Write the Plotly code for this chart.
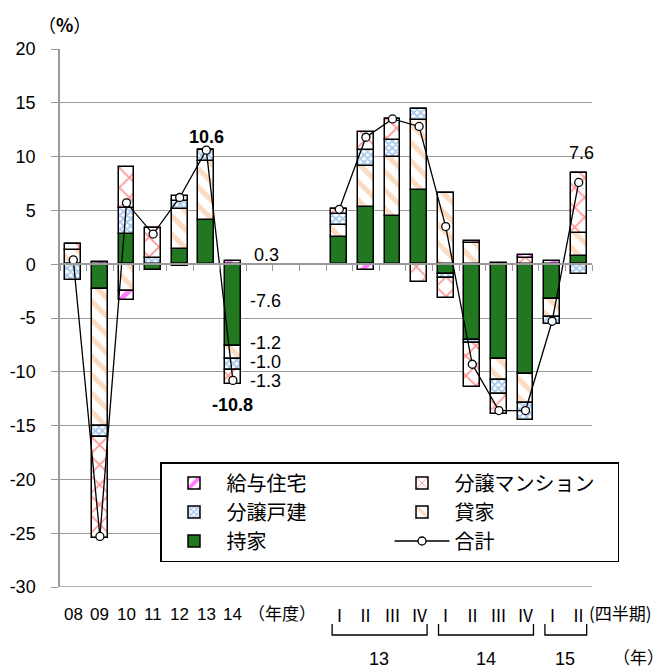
import plotly.graph_objects as go

# ---- data -------------------------------------------------------------
categories = ["08", "09", "10", "11", "12", "13", "14",
              "Ⅰ", "Ⅱ", "Ⅲ", "Ⅳ", "Ⅰ", "Ⅱ", "Ⅲ", "Ⅳ", "Ⅰ", "Ⅱ"]
slot_index = [0, 1, 2, 3, 4, 5, 6, 10, 11, 12, 13, 14, 15, 16, 17, 18, 19]

mochiie = [0.0, -2.3, 2.8, -0.55, 1.45, 4.1, -7.6,
           2.5, 5.3, 4.5, 6.9, -0.9, -7.0, -8.8, -10.2, -3.2, 0.75]
kashiya = [1.35, -12.7, -2.5, 0.0, 3.7, 5.5, -1.2,
           1.1, 3.8, 5.5, 6.5, 6.6, 2.0, -2.0, -2.7, -1.7, 2.15]
bunjo_kodate = [-1.45, -1.1, 2.4, 0.55, 0.75, 1.0, -1.0,
                1.1, 1.5, 1.55, 1.0, -0.4, -0.3, -1.25, -1.55, -0.7, -0.9]
bunjo_mansion = [0.55, -9.35, 3.85, 2.85, 0.45, 0.0, -1.3,
                 0.45, 1.65, 1.95, -1.7, -1.85, -4.15, -1.85, 0.55, 0.0, 5.6]
kyuyo = [0.0, 0.2, -0.85, 0.0, -0.2, 0.0, 0.3,
         0.0, -0.5, 0.0, 0.0, 0.0, 0.2, 0.15, 0.35, 0.3, 0.0]
total = [0.4, -25.3, 5.7, 2.8, 6.2, 10.6, -10.8,
         5.1, 11.8, 13.5, 12.8, 3.5, -9.3, -13.6, -13.6, -5.3, 7.6]

y_ticks = [-30, -25, -20, -15, -10, -5, 0, 5, 10, 15, 20]
y_tick_labels = ["-30", "-25", "-20", "-15", "-10", "-5", "0", "5", "10", "15", "20"]

year_groups = [("13", 7, 10), ("14", 11, 14), ("15", 15, 16)]  # index ranges into categories

# ---- styling ------------------------------------------------------------
NUM_FONT = "Liberation Sans, Arial, sans-serif"
JP_FONT = "Noto Sans CJK JP, sans-serif"
GRID = "#9A9A9A"

fig = go.Figure()

series = [
    ("持家", mochiie, dict(color="#217821"), 5),
    ("貸家", kashiya, dict(color="white", pattern=dict(shape="\\", fgcolor="#F7B985", bgcolor="white",
                                                    size=13, solidity=0.4, fillmode="overlay")), 4),
    ("分譲戸建", bunjo_kodate, dict(color="white", pattern=dict(shape="x", fgcolor="#4F93D8", bgcolor="white",
                                                          size=5, solidity=0.6, fillmode="overlay")), 3),
    ("分譲マンション", bunjo_mansion, dict(color="white", pattern=dict(shape="x", fgcolor="#FF2A2A", bgcolor="white",
                                                                size=14, solidity=0.22, fillmode="overlay")), 2),
    ("給与住宅", kyuyo, dict(color="white", pattern=dict(shape="/", fgcolor="#FF00FF", bgcolor="white",
                                                     size=10, solidity=0.5, fillmode="overlay")), 1),
]

for name, vals, marker, rank in series:
    m = dict(marker)
    m["line"] = dict(color="black", width=1.5)
    fig.add_trace(go.Bar(x=slot_index, y=vals, name=name, marker=m, width=0.6,
                         legendrank=rank))

# total line, broken between fiscal-year and quarterly parts
lx, ly = [], []
for i, (s, v) in enumerate(zip(slot_index, total)):
    if i > 0 and s - slot_index[i - 1] > 1:
        lx.append(None)
        ly.append(None)
    lx.append(s)
    ly.append(v)
fig.add_trace(go.Scatter(x=lx, y=ly, name="合計", mode="lines+markers",
                         line=dict(color="black", width=1.3),
                         marker=dict(symbol="circle", size=8, color="white",
                                     line=dict(color="black", width=1.3)),
                         connectgaps=False, legendrank=6))

# ---- annotations --------------------------------------------------------
ann = []
def pap(px):  # pixel row -> paper y (plot area 49..587)
    return (587 - px) / 538.0
def papx(px):  # pixel column -> paper x (plot area 60..592)
    return (px - 60) / 532.0

# category labels
for s, c in zip(slot_index, categories):
    ann.append(dict(x=s, y=pap(614), xref="x", yref="paper", text=c, showarrow=False,
                    font=dict(family=NUM_FONT if c[0].isdigit() else JP_FONT, size=17, color="black"),
                    xanchor="center", yanchor="middle"))
ann.append(dict(x=7.85, y=pap(612), xref="x", yref="paper", text="（年度）", showarrow=False,
                font=dict(family=JP_FONT, size=17, color="black"), xanchor="center", yanchor="middle"))
ann.append(dict(x=19.3, y=pap(612), xref="x", yref="paper", text="(四半期)", showarrow=False,
                font=dict(family=JP_FONT, size=17, color="black"), xanchor="left", yanchor="middle"))

shapes = []
for label, a, b in year_groups:
    x0 = slot_index[a] - 0.27
    x1 = slot_index[b] + 0.3
    shapes.append(dict(type="path", xref="x", yref="paper",
                       path=f"M {x0},{pap(624)} L {x0},{pap(635)} L {x1},{pap(635)} L {x1},{pap(624)}",
                       line=dict(color="black", width=1.3)))
    ann.append(dict(x=(slot_index[a] + slot_index[b]) / 2, y=pap(659), xref="x", yref="paper",
                    text=label, showarrow=False, font=dict(family=NUM_FONT, size=18, color="black"),
                    xanchor="center", yanchor="middle"))
ann.append(dict(x=papx(638), y=pap(656), xref="paper", yref="paper", text="（年）", showarrow=False,
                font=dict(family=JP_FONT, size=17, color="black"), xanchor="center", yanchor="middle"))

# (%) unit label
ann.append(dict(x=papx(64), y=pap(24), xref="paper", yref="paper", text="（<b>%</b>）", showarrow=False,
                font=dict(family=JP_FONT, size=18, color="black"), xanchor="center", yanchor="middle"))

# value labels for FY14 components and totals
i14 = categories.index("14")
comp_labels = [(kyuyo[i14], 0.85, 6.7), (mochiie[i14], -3.4, 6.55), (kashiya[i14], -7.3, 6.55),
               (bunjo_kodate[i14], -9.05, 6.55), (bunjo_mansion[i14], -10.85, 6.55)]
for v, ypos, xpos in comp_labels:
    ann.append(dict(x=xpos, y=ypos, xref="x", yref="y", text=f"{v:.1f}", showarrow=False,
                    font=dict(family=NUM_FONT, size=18, color="black"), xanchor="left", yanchor="middle"))
i13 = categories.index("13")
ann.append(dict(x=slot_index[i13], y=11.85, xref="x", yref="y", text=f"<b>{total[i13]:.1f}</b>",
                showarrow=False, font=dict(family=NUM_FONT, size=18, color="black"),
                xanchor="center", yanchor="middle"))
ann.append(dict(x=slot_index[i14], y=-13.1, xref="x", yref="y", text=f"<b>{total[i14]:.1f}</b>",
                showarrow=False, font=dict(family=NUM_FONT, size=18, color="black"),
                xanchor="center", yanchor="middle"))
ann.append(dict(x=slot_index[-1] + 0.1, y=10.3, xref="x", yref="y", text=f"{total[-1]:.1f}",
                showarrow=False, font=dict(family=NUM_FONT, size=18, color="black"),
                xanchor="center", yanchor="middle"))

# bottom gridline at -30
shapes.append(dict(type="line", xref="paper", yref="y", x0=0, x1=1, y0=-30, y1=-30,
                   line=dict(color=GRID, width=1.3), layer="below"))

fig.update_layout(
    width=669, height=671,
    margin=dict(l=60, r=77, t=49, b=84, autoexpand=False),
    paper_bgcolor="white", plot_bgcolor="white",
    barmode="relative",
    bargap=0,
    showlegend=True,
    legend=dict(orientation="h", x=papx(160), y=pap(462), xanchor="left", yanchor="top",
                bgcolor="white", bordercolor="black", borderwidth=1.5,
                font=dict(family=JP_FONT, size=20, color="black"),
                entrywidth=158, entrywidthmode="pixels", traceorder="normal",
                itemwidth=55),
    annotations=ann,
    shapes=shapes,
    xaxis=dict(range=[-0.5, 19.5], anchor="free", position=0.6,
               showline=True, linecolor=GRID, linewidth=1.5,
               tickmode="array", tickvals=[k - 0.5 for k in range(21)],
               ticks="outside", ticklen=6, tickcolor=GRID, tickwidth=1.3,
               showticklabels=False, showgrid=False, zeroline=False),
    yaxis=dict(range=[-30, 20], tickmode="array", tickvals=y_ticks, ticktext=y_tick_labels,
               showline=True, linecolor=GRID, linewidth=1.5,
               ticks="outside", ticklen=7, tickcolor=GRID, tickwidth=1.3,
               showgrid=True, gridcolor=GRID, gridwidth=1.3, zeroline=False,
               tickfont=dict(family=NUM_FONT, size=18, color="black"),
               ticklabelstandoff=12),
)

fig.write_html("out.html")
